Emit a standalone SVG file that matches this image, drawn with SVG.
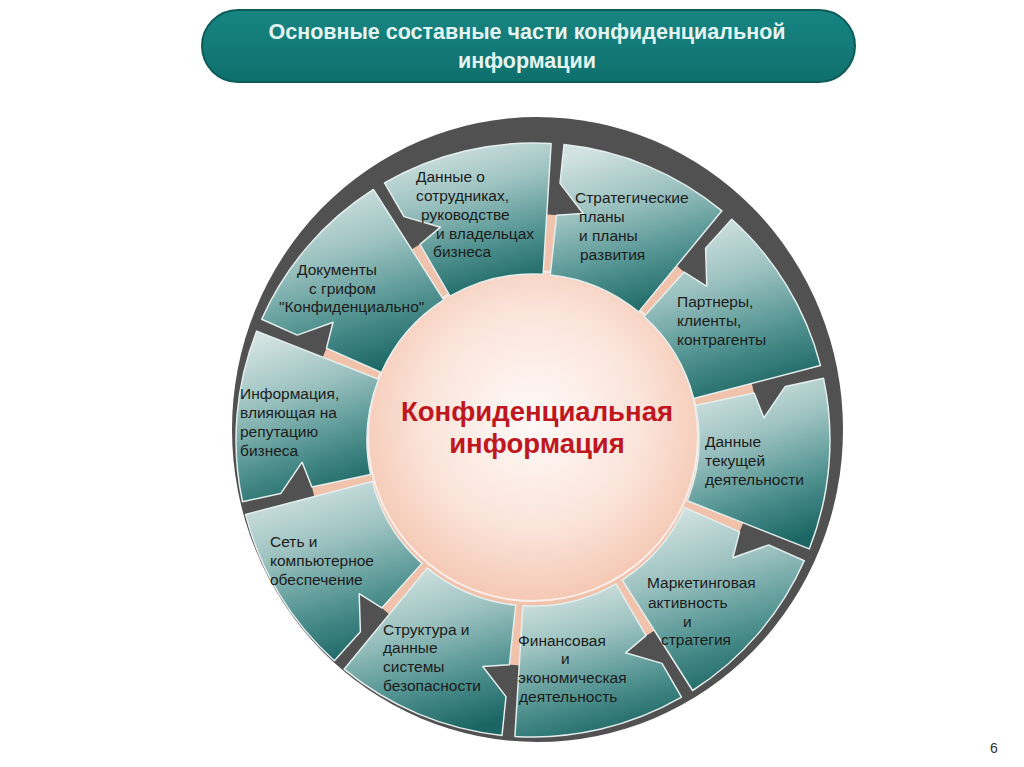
<svg xmlns="http://www.w3.org/2000/svg" width="1024" height="767" viewBox="0 0 1024 767">
  <defs>
    <linearGradient id="segGrad" x1="0.3" y1="0" x2="0.6" y2="1">
      <stop offset="0" stop-color="#d3e3e2"/>
      <stop offset="0.35" stop-color="#9cc2c0"/>
      <stop offset="0.7" stop-color="#4f918f"/>
      <stop offset="1" stop-color="#1b6664"/>
    </linearGradient>
    <radialGradient id="coreGrad" cx="0.5" cy="0.45" r="0.55">
      <stop offset="0" stop-color="#fefaf8"/>
      <stop offset="0.6" stop-color="#fbe4da"/>
      <stop offset="1" stop-color="#f4c8b4"/>
    </radialGradient>
    <linearGradient id="titleGrad" x1="0" y1="0" x2="0" y2="1">
      <stop offset="0" stop-color="#178582"/>
      <stop offset="1" stop-color="#0f706d"/>
    </linearGradient>
    <style>
      .seg { fill: url(#segGrad); stroke: #e3eeed; stroke-width: 1.5; stroke-linejoin: round; }
      .lbl { font-family: "Liberation Sans", Arial, sans-serif; font-size: 15.5px; fill: #1c1c1c; }
      .core { font-family: "Liberation Sans", Arial, sans-serif; font-size: 27.5px; font-weight: bold; fill: #c0161e; text-anchor: middle; }
      .title { font-family: "Liberation Sans", Arial, sans-serif; font-size: 21.5px; font-weight: bold; fill: #e4f4f2; text-anchor: middle; }
    </style>
  </defs>

  <rect width="1024" height="767" fill="#ffffff"/>

  <g id="title">
    <rect x="202" y="10" width="653" height="72" rx="36" ry="36" fill="url(#titleGrad)" stroke="#0d5c5a" stroke-width="2"/>
    <text class="title" x="527" y="39">Основные составные части конфиденциальной</text>
    <text class="title" x="527" y="68">информации</text>
  </g>

  <g id="ring">
    <ellipse cx="537.5" cy="429.5" rx="305.5" ry="312.5" fill="#515151"/>
    <circle cx="533" cy="440" r="226" fill="#f1c2ab"/>
  </g>

  <g id="core">
    <circle cx="533" cy="436" r="165" fill="url(#coreGrad)" stroke="#fbeee8" stroke-width="2"/>
    <text class="core" x="537" y="421">Конфиденциальная</text>
    <text class="core" x="537" y="453">информация</text>
  </g>

  <g id="seg-staff">
    <path class="seg" d="M384.5,182.8 A297,297 0 0 1 551.1,143.6 L543.1,274.3 A166,166 0 0 0 450,296.2 L420,244.3 L440.5,227.2 L404,216.6 Z"/>
    <text class="lbl"><tspan x="416" y="182">Данные о</tspan><tspan x="416" y="201">сотрудниках,</tspan><tspan x="421" y="220">руководстве</tspan><tspan x="436" y="239">и владельцах</tspan><tspan x="433" y="257">бизнеса</tspan></text>
  </g>

  <g id="seg-strategy">
    <path class="seg" d="M564,144.6 A297,297 0 0 1 721.9,210.8 L638.6,311.9 A166,166 0 0 0 550.3,274.9 L556.6,215.2 L583.2,213.5 L560,183.4 Z"/>
    <text class="lbl"><tspan x="575" y="203">Стратегические</tspan><tspan x="579" y="222">планы</tspan><tspan x="579" y="241">и планы</tspan><tspan x="580" y="260">развития</tspan></text>
  </g>

  <g id="seg-partners">
    <path class="seg" d="M731.7,219.3 A297,297 0 0 1 820.5,365.6 L693.7,398.4 A166,166 0 0 0 644.1,316.6 L684.2,272.1 L706.8,286.3 L705.6,248.3 Z"/>
    <text class="lbl"><tspan x="677" y="307">Партнеры,</tspan><tspan x="677" y="326">клиенты,</tspan><tspan x="677" y="345">контрагенты</tspan></text>
  </g>

  <g id="seg-current">
    <path class="seg" d="M823.5,378.3 A297,297 0 0 1 809.3,548.9 L687.4,500.8 A166,166 0 0 0 695.4,405.5 L754.1,393 L763.9,417.8 L785.3,386.4 Z"/>
    <text class="lbl"><tspan x="705" y="447">Данные</tspan><tspan x="705" y="466">текущей</tspan><tspan x="705" y="485">деятельности</tspan></text>
  </g>

  <g id="seg-marketing">
    <path class="seg" d="M804.3,560.8 A297,297 0 0 1 692.6,690.5 L622.2,580 A166,166 0 0 0 684.6,507.5 L739.5,531.9 L732.9,557.7 L768.7,544.9 Z"/>
    <text class="lbl"><tspan x="647" y="588">Маркетинговая</tspan><tspan x="648" y="608">активность</tspan><tspan x="683" y="627">и</tspan><tspan x="661" y="645">стратегия</tspan></text>
  </g>

  <g id="seg-finance">
    <path class="seg" d="M681.5,697.2 A297,297 0 0 1 514.9,736.4 L522.9,605.7 A166,166 0 0 0 616,583.8 L646,635.7 L625.5,652.8 L662,663.4 Z"/>
    <text class="lbl"><tspan x="518" y="646">Финансовая</tspan><tspan x="561" y="664">и</tspan><tspan x="518" y="683">экономическая</tspan><tspan x="519" y="702">деятельность</tspan></text>
  </g>

  <g id="seg-security">
    <path class="seg" d="M502,735.4 A297,297 0 0 1 344.1,669.2 L427.4,568.1 A166,166 0 0 0 515.7,605.1 L509.4,664.8 L482.8,666.5 L506,696.6 Z"/>
    <text class="lbl"><tspan x="383" y="635">Структура и</tspan><tspan x="383" y="653">данные</tspan><tspan x="383" y="672">системы</tspan><tspan x="383" y="691">безопасности</tspan></text>
  </g>

  <g id="seg-network">
    <path class="seg" d="M334.3,660.7 A297,297 0 0 1 245.5,514.4 L372.3,481.6 A166,166 0 0 0 421.9,563.4 L381.8,607.9 L359.2,593.7 L360.4,631.7 Z"/>
    <text class="lbl"><tspan x="270" y="547">Сеть и</tspan><tspan x="270" y="566">компьютерное</tspan><tspan x="270" y="585">обеспечение</tspan></text>
  </g>

  <g id="seg-reputation">
    <path class="seg" d="M242.5,501.7 A297,297 0 0 1 256.7,331.1 L378.6,379.2 A166,166 0 0 0 370.6,474.5 L311.9,487 L302.1,462.2 L280.7,493.6 Z"/>
    <text class="lbl"><tspan x="240" y="399">Информация,</tspan><tspan x="240" y="418">влияющая на</tspan><tspan x="240" y="437">репутацию</tspan><tspan x="240" y="456">бизнеса</tspan></text>
  </g>

  <g id="seg-documents">
    <path class="seg" d="M261.7,319.2 A297,297 0 0 1 373.4,189.5 L443.8,300 A166,166 0 0 0 381.4,372.5 L326.5,348.1 L333.1,322.3 L297.3,335.1 Z"/>
    <text class="lbl"><tspan x="297" y="275">Документы</tspan><tspan x="309" y="294">с грифом</tspan><tspan x="279" y="312">"Конфиденциально"</tspan></text>
  </g>

  <g id="connectors"/>

  <text x="990" y="753" font-family="'Liberation Sans', Arial, sans-serif" font-size="14" fill="#333333">6</text>
</svg>
